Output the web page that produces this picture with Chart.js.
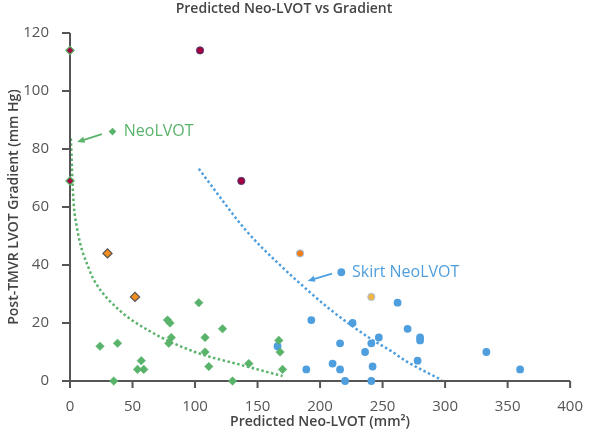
<!DOCTYPE html>
<html>
<head>
<meta charset="utf-8">
<script src="https://cdn.jsdelivr.net/npm/chart.js@4.4.1/dist/chart.umd.min.js"></script>
<style>
  html, body { margin: 0; padding: 0; background: #fff; }
  #wrap { width: 600px; height: 439px; position: relative; }
</style>
</head>
<body>
<div id="wrap"><canvas id="chart"></canvas></div>
<script>
// values: [area mm², gradient mm Hg]
const neoLvotPts   = [[0,114],[0,69],[24,12],[38,13],[35,0],[57,7],[54,4],[59,4],[78,21],[80,20],[81,15],[79,13],
                      [103,27],[108,15],[108,10],[111,5],[122,18],[130,0],[143,6],[167,14],[168,10],[170,4]];
const skirtPts     = [[166,12],[189,4],[193,21],[210,6],[216,13],[216,4],[220,0],[226,20],[236,10],[241,13],
                      [242,5],[241,0],[247,15],[262,27],[270,18],[280,15],[280,14],[278,7],[333,10],[360,4]];
const redDiamonds  = [[0,114],[0,69]];
const orangeDiamonds = [[30,44],[52,29]];
const redCircles   = [[104,114],[137,69]];
const orangeCircles = [[184,44]];
const goldCircles  = [[241,29]];
// dotted trend lines
const neoTrend   = [[0.7,83.6],[2.6,63.4],[5.5,53],[15.6,38.2],[20.8,33.6],[39,24.6],[62.5,17.5],[100,10],[138,5.4],[170,1.7]];
const skirtTrend = [[103,73.2],[109.9,69.2],[140.6,52],[166.7,40.5],[192.7,30.3],[208.3,24.6],[239.6,14.8],[257,10.3],[268.2,7],[297.3,0.3]];
// callout labels: marker point, arrow from -> to, text
const callouts = [
  { text: 'NeoLVOT', color: '#5ab36a', marker: [34,86], from: [25.5,85.1], to: [5.7,82.4], textAt: [43,86] },
  { text: 'Skirt NeoLVOT', color: '#4f9fde', marker: [217,37.5], from: [209.6,37], to: [190,34.5], textAt: [225.5,37.5] }
];
const xTicks = [0, 50, 100, 150, 200, 250, 300, 350, 400];
const yTicks = [0, 20, 40, 60, 80, 100, 120];
const xMax = 400, yMax = 120;

const GREEN = '#5ab36a';
const BLUE = '#4f9fde';
const AXIS = '#555';
const FONT = 'Open Sans';
const pts = arr => arr.map(p => ({ x: p[0], y: p[1] }));

const titlePlugin = {
  id: 'topTitle',
  afterDraw(chart) {
    const ctx = chart.ctx;
    ctx.save();
    ctx.font = '600 14px "' + FONT + '"';
    ctx.fillStyle = '#444';
    ctx.textAlign = 'center';
    ctx.textBaseline = 'middle';
    ctx.fillText('Predicted Neo-LVOT vs Gradient', chart.width / 2 - 16, 9);
    ctx.restore();
  }
};

const calloutPlugin = {
  id: 'callouts',
  afterDatasetsDraw(chart) {
    const { ctx, scales: { x, y } } = chart;
    ctx.save();
    callouts.forEach(c => {
      const x1 = x.getPixelForValue(c.from[0]), y1 = y.getPixelForValue(c.from[1]);
      const x2 = x.getPixelForValue(c.to[0]), y2 = y.getPixelForValue(c.to[1]);
      const ang = Math.atan2(y2 - y1, x2 - x1);
      const head = 8;
      ctx.strokeStyle = c.color;
      ctx.fillStyle = c.color;
      ctx.lineWidth = 1.8;
      ctx.beginPath();
      ctx.moveTo(x1, y1);
      ctx.lineTo(x2 - Math.cos(ang) * head * 0.8, y2 - Math.sin(ang) * head * 0.8);
      ctx.stroke();
      ctx.beginPath();
      ctx.moveTo(x2, y2);
      ctx.lineTo(x2 - head * Math.cos(ang - 0.4), y2 - head * Math.sin(ang - 0.4));
      ctx.lineTo(x2 - head * Math.cos(ang + 0.4), y2 - head * Math.sin(ang + 0.4));
      ctx.closePath();
      ctx.fill();
      ctx.font = '16px "' + FONT + '"';
      ctx.textAlign = 'left';
      ctx.textBaseline = 'middle';
      ctx.fillText(c.text, x.getPixelForValue(c.textAt[0]), y.getPixelForValue(c.textAt[1]));
    });
    ctx.restore();
  }
};

// lower order = drawn on top
const scatter = (data, order, style) =>
  Object.assign({ type: 'scatter', data: pts(data), showLine: false, order: order, clip: false }, style);
const trend = (data, color) => ({
  type: 'line', data: pts(data), borderColor: color, borderWidth: 2.5, borderDash: [2.5, 2.5],
  pointRadius: 0, fill: false, cubicInterpolationMode: 'monotone', order: 10
});

// axis lines and outward tick marks as datasets (the scale's own border/ticks never showed up)
const axisLine = {
  type: 'line', data: pts([[0, yMax], [0, 0], [xMax, 0]]), borderColor: AXIS, borderWidth: 2,
  pointRadius: 0, tension: 0, fill: false, clip: false, order: 8
};
const yTickMarks = scatter(yTicks.map(v => [0, v]), 8,
  { pointStyle: 'dash', rotation: 180, pointRadius: 8, borderColor: AXIS, backgroundColor: 'rgba(0,0,0,0)', borderWidth: 2 });
const xTickMarks = scatter(xTicks.map(v => [v, 0]), 8,
  { pointStyle: 'dash', rotation: 90, pointRadius: 7, borderColor: AXIS, backgroundColor: 'rgba(0,0,0,0)', borderWidth: 2 });

new Chart(document.getElementById('chart'), {
  type: 'scatter',
  data: {
    datasets: [
      trend(neoTrend, GREEN),
      trend(skirtTrend, BLUE),
      axisLine,
      yTickMarks,
      xTickMarks,
      scatter(neoLvotPts, 5, { pointStyle: 'rectRot', pointRadius: 4.3, backgroundColor: GREEN, borderColor: GREEN, borderWidth: 0.5 }),
      scatter(skirtPts, 5, { pointStyle: 'circle', pointRadius: 3.9, backgroundColor: BLUE, borderColor: BLUE, borderWidth: 0 }),
      scatter(redDiamonds, 1, { pointStyle: 'rectRot', pointRadius: 4, backgroundColor: '#a3003d', borderColor: GREEN, borderWidth: 1.2 }),
      scatter(orangeDiamonds, 1, { pointStyle: 'rectRot', pointRadius: 4.6, backgroundColor: '#f28c1c', borderColor: '#555', borderWidth: 1.2 }),
      scatter(redCircles, 1, { pointStyle: 'circle', pointRadius: 3.6, backgroundColor: '#a3003d', borderColor: '#4a3f7a', borderWidth: 1 }),
      scatter(orangeCircles, 1, { pointStyle: 'circle', pointRadius: 3.6, backgroundColor: '#ef7f1a', borderColor: '#9ec3e6', borderWidth: 1 }),
      scatter(goldCircles, 1, { pointStyle: 'circle', pointRadius: 3.6, backgroundColor: '#f7b244', borderColor: '#9ec3e6', borderWidth: 1 }),
      scatter(callouts.slice(0, 1).map(c => c.marker), 1, { pointStyle: 'rectRot', pointRadius: 3.8, backgroundColor: GREEN, borderColor: GREEN, borderWidth: 0 }),
      scatter(callouts.slice(1).map(c => c.marker), 1, { pointStyle: 'circle', pointRadius: 3.9, backgroundColor: BLUE, borderColor: BLUE, borderWidth: 0 })
    ]
  },
  options: {
    responsive: true,
    maintainAspectRatio: false,
    animation: false,
    layout: { padding: { top: 33, right: 16, left: 0, bottom: 4 } },
    plugins: { legend: { display: false }, tooltip: { enabled: false }, title: { display: false } },
    scales: {
      x: {
        type: 'linear', min: 0, max: xMax,
        afterFit: s => { s.height = 54; },
        afterBuildTicks: s => { s.ticks = xTicks.map(v => ({ value: v })); },
        border: { display: false },
        grid: { display: false, drawTicks: false },
        ticks: { color: AXIS, font: { family: FONT, size: 15 }, padding: 17, maxRotation: 0 },
        title: { display: true, text: 'Predicted Neo-LVOT (mm²)', color: '#444', font: { family: FONT, size: 14, weight: '600' }, padding: { top: 0, bottom: 5 } }
      },
      y: {
        type: 'linear', min: 0, max: yMax,
        afterFit: s => { s.width = 70; },
        afterBuildTicks: s => { s.ticks = yTicks.map(v => ({ value: v })); },
        border: { display: false },
        grid: { display: false, drawTicks: false },
        ticks: { color: AXIS, font: { family: FONT, size: 15 }, padding: 21 },
        title: { display: true, text: 'Post-TMVR LVOT Gradient (mm Hg)', color: '#444', font: { family: FONT, size: 14, weight: '600' }, padding: { top: 6, bottom: 0 } }
      }
    }
  },
  plugins: [titlePlugin, calloutPlugin]
});
</script>
</body>
</html>
